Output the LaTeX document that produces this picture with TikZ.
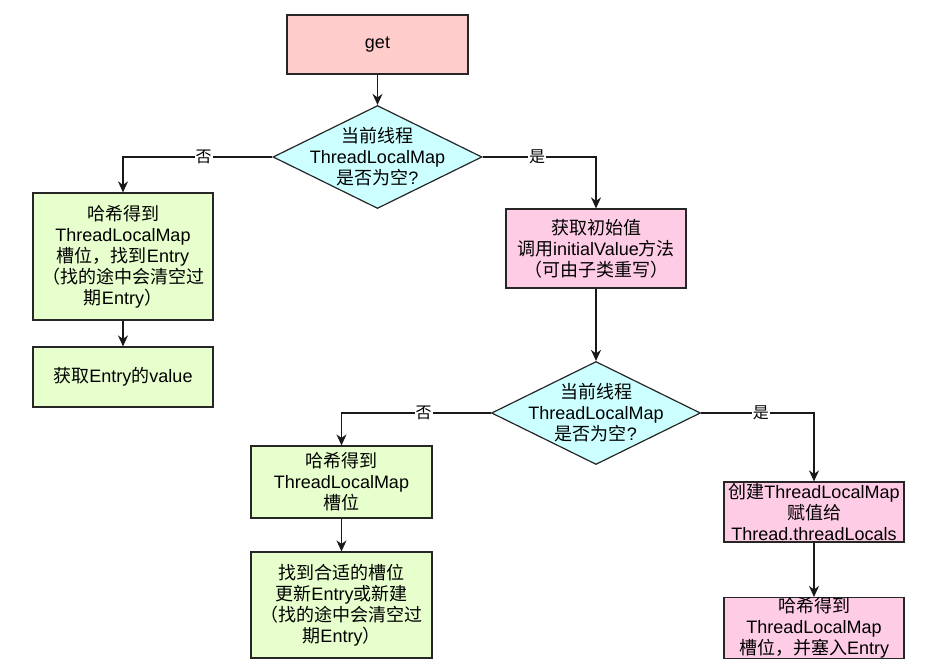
\documentclass[tikz,border=0pt]{standalone}
\usepackage{fontspec}
\setmainfont{Liberation Sans}
\newfontfamily\cjk{Noto Sans CJK SC}
\newcommand{\zh}[1]{{\cjk #1}}
\usetikzlibrary{shapes.geometric,arrows.meta}
\definecolor{getred}{HTML}{FFCCCC}
\definecolor{askcyan}{HTML}{CCFFFF}
\definecolor{stepgreen}{HTML}{E6FFCC}
\definecolor{steppink}{HTML}{FFCCE6}

\begin{document}
\begin{tikzpicture}[x=1pt,y=-1pt,>={Stealth[length=11pt,width=10pt,inset=3.5pt]},
    line width=1.2pt,
    box/.style={rectangle,draw=black!85,minimum width=180pt,align=center,inner sep=0pt,
        font=\fontsize{18}{21}\selectfont},
    ask/.style={diamond,draw=black!85,fill=askcyan,minimum width=209pt,minimum height=103pt,inner sep=0pt},
    asktext/.style={align=center,inner sep=0pt,font=\fontsize{18}{21}\selectfont},
    arr/.style={->,draw=black!90},
    lab/.style={fill=white,inner sep=1pt,font=\fontsize{16}{16}\selectfont}]

                    \useasboundingbox (0,0) rectangle (930,670);

                    \node[box,fill=getred,minimum width=181pt,minimum height=59pt] (get) at (377.5,44.5) {get};

                    \node[ask] (q1) at (377.5,157) {};
                    \node[asktext] (q1t) at (q1) {\zh{当前线程}\\ThreadLocalMap\\\zh{是否为空}?};

                    \node[box,fill=stepgreen,minimum height=127pt] (L1) at (123,256.5)
                        {\zh{哈希得到}\\ThreadLocalMap\\\zh{槽位，找到}Entry\\\zh{（找的途中会清空过}\\\zh{期}Entry\zh{）}};
                    \node[box,fill=stepgreen,minimum height=60pt] (L2) at (123,377) {\zh{获取}Entry\zh{的}value};

                    \node[box,fill=steppink,minimum height=79pt] (R1) at (596,248.5)
                        {\zh{获取初始值}\\\zh{调用}initialValue\zh{方法}\\\zh{（可由子类重写）}};

                    \node[ask] (q2) at (596,413) {};
                    \node[asktext] (q2t) at (q2) {\zh{当前线程}\\ThreadLocalMap\\\zh{是否为空}?};

                    \node[box,fill=stepgreen,minimum width=181pt,minimum height=72pt] (M1) at (341.5,482)
                        {\zh{哈希得到}\\ThreadLocalMap\\\zh{槽位}};
                    \node[box,fill=stepgreen,minimum width=181pt,minimum height=106pt] (M2) at (341.5,605)
                        {\zh{找到合适的槽位}\\\zh{更新}Entry\zh{或新建}\\\zh{（找的途中会清空过}\\\zh{期}Entry\zh{）}};

                    \node[box,fill=steppink,minimum height=60pt] (R2) at (814,512)
                        {\zh{创建}ThreadLocalMap\\\zh{赋值给}\\Thread.threadLocals};
                    \node[box,fill=steppink,minimum height=60pt] (R3) at (814,628)
                        {\zh{哈希得到}\\ThreadLocalMap\\\zh{槽位，并塞入}Entry};

                    \path
                        (get) edge[arr] (q1)
                        (L1) edge[arr] (L2)
                        (R1) edge[arr] (q2)
                        (M1) edge[arr] (M2)
                        (R2) edge[arr] (R3)
                        ;
                    \draw[arr] (q1.west) -| node[lab,pos=0.23] {\zh{否}} (L1.north);
                    \draw[arr] (q1.east) -| node[lab,pos=0.24] {\zh{是}} (R1.north);
                    \draw[arr] (q2.west) -| node[lab,pos=0.225] {\zh{否}} (M1.north);
                    \draw[arr] (q2.east) -| node[lab,pos=0.265] {\zh{是}} (R2.north);
                \end{tikzpicture}
\end{document}
